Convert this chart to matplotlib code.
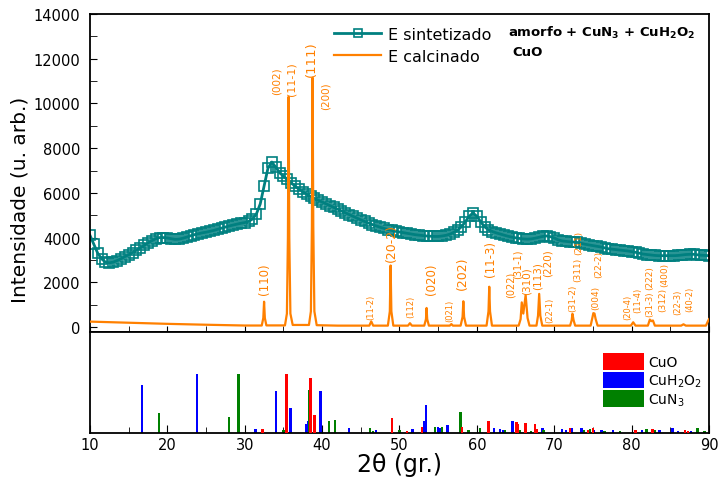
import numpy as np
import matplotlib
matplotlib.use("Agg")
import matplotlib.pyplot as plt
from matplotlib.ticker import MultipleLocator

# --- data ---
# as-synthesised sample (teal, 0.5 deg steps from 10 to 90)
tth_sint = np.arange(10.0, 90.01, 0.5)
int_sint = [4100, 3700, 3300, 3050, 2900, 2870, 2900, 2970, 3050, 3150,
            3230, 3330, 3430, 3540, 3650, 3760, 3860, 3950, 4000, 4000,
            3980, 3950, 3920, 3930, 3970, 4020, 4080, 4130, 4170, 4210,
            4240, 4280, 4320, 4370, 4420, 4470, 4520, 4560, 4600, 4640,
            4670, 4720, 4830, 5050, 5500, 6300, 7100, 7380, 7150, 6900,
            6750, 6600, 6450, 6300, 6170, 6050, 5940, 5840, 5750, 5670,
            5590, 5510, 5430, 5350, 5270, 5190, 5110, 5030, 4950, 4870,
            4790, 4720, 4650, 4580, 4520, 4460, 4410, 4360, 4320, 4280,
            4250, 4220, 4190, 4160, 4130, 4110, 4090, 4070, 4060, 4050,
            4050, 4070, 4100, 4150, 4230, 4330, 4480, 4700, 4950, 5100,
            4950, 4700, 4480, 4350, 4270, 4210, 4160, 4110, 4060, 4020,
            3990, 3960, 3940, 3930, 3940, 3970, 4010, 4050, 4070, 4040,
            3980, 3900, 3850, 3830, 3810, 3800, 3780, 3740, 3700, 3670,
            3640, 3610, 3580, 3540, 3500, 3480, 3460, 3440, 3420, 3400,
            3370, 3340, 3300, 3260, 3240, 3220, 3200, 3190, 3190, 3190,
            3190, 3190, 3200, 3220, 3240, 3250, 3250, 3230, 3210, 3200,
            3190]

# calcined sample (orange)
tth_calc = [10.0, 15.0, 20.0, 25.0, 30.0,
            32.2, 32.4, 32.5, 32.6, 32.8,
            35.2, 35.45, 35.58, 35.67, 35.76, 35.9, 36.2,
            38.3, 38.55, 38.68, 38.77, 38.86, 39.0, 39.3,
            42.0, 46.1, 46.35, 46.6,
            48.5, 48.75, 48.85, 48.95, 49.2,
            51.1, 51.35, 51.6,
            53.2, 53.42, 53.5, 53.58, 53.8,
            56.5, 56.7, 56.9,
            57.9, 58.15, 58.25, 58.35, 58.6,
            61.25, 61.5, 61.6, 61.7, 61.95,
            65.4, 65.65, 65.8, 66.0, 66.3, 66.55, 66.8,
            67.7, 67.9, 68.05, 68.2, 68.45,
            70.0, 72.05, 72.25, 72.35, 72.5, 72.7,
            74.7, 74.95, 75.05, 75.2, 75.35, 75.6,
            79.9, 80.2, 80.5, 82.1, 82.35, 82.55, 82.75, 83.0,
            86.4, 86.7, 87.0, 89.6, 89.85, 90.0]
int_calc = [240, 190, 140, 100, 65,
            65, 400, 1130, 400, 70,
            70, 600, 4000, 10300, 4000, 600, 90,
            90, 700, 4500, 11150, 4500, 700, 80,
            60, 60, 250, 60,
            60, 700, 2750, 700, 60,
            60, 170, 60,
            60, 350, 850, 350, 60,
            60, 130, 60,
            60, 450, 1150, 450, 60,
            60, 700, 1800, 700, 60,
            60, 350, 1100, 600, 1430, 400, 60,
            60, 500, 1480, 500, 60,
            60, 60, 300, 590, 300, 60,
            60, 450, 620, 600, 350, 60,
            60, 210, 60, 60, 330, 260, 290, 60,
            60, 120, 60, 60, 250, 350]

# (hkl) labels: text, 2theta, intensity at label base, font size
hkl_labels = [("(110)", 32.6, 1480, 8.5), ("(002)", 34.1, 10420, 7.5),
              ("(11-1)", 36.1, 10380, 8), ("(111)", 38.6, 11240, 9.5),
              ("(200)", 40.4, 9750, 7.5), ("(11-2)", 46.3, 360, 6),
              ("(20-2)", 48.97, 2970, 9), ("(112)", 51.4, 430, 6),
              ("(020)", 54.1, 1480, 8.5), ("(021)", 56.5, 280, 6),
              ("(202)", 58.1, 1700, 9), ("(11-3)", 61.7, 2270, 8.5),
              ("(022)", 64.4, 1330, 7), ("(31-1)", 65.3, 2200, 7),
              ("(310)", 66.45, 1480, 7.5), ("(113)", 67.85, 1700, 7.5),
              ("(220)", 69.2, 2290, 7.5), ("(22-1)", 69.4, 210, 6),
              ("(31-2)", 72.4, 700, 6.5), ("(311)", 73.0, 2070, 6.5),
              ("(211)", 73.2, 3270, 6.5), ("(004)", 75.4, 800, 6.5),
              ("(22-2)", 75.7, 2220, 6.5), ("(20-4)", 79.5, 360, 6),
              ("(11-4)", 80.8, 660, 6), ("(31-3)", 82.3, 500, 6),
              ("(222)", 82.35, 1700, 6.5), ("(312)", 84.0, 730, 6.5),
              ("(400)", 84.3, 1850, 6.5), ("(22-3)", 86.0, 580, 6),
              ("(40-2)", 87.5, 730, 6)]

# reference patterns (relative intensity)
cuo_pos = [32.3, 35.4, 38.5, 39.0, 49.0, 51.0, 52.9, 58.1, 61.5, 65.1, 65.3,
           66.3, 67.5, 67.7, 72.0, 74.4, 75.0, 80.5, 82.7, 86.9, 87.3]
cuo_int = [7, 100, 93, 31, 26, 4, 10, 10, 21, 19, 16,
           17, 16, 7, 9, 5, 9, 5, 7, 5, 3]
cuh2o2_pos = [16.7, 23.8, 31.4, 34.0, 35.9, 38.0, 38.2, 39.8, 43.5, 47.0,
              51.7, 53.2, 53.4, 55.0, 55.2, 56.2, 62.2, 63.0, 63.4, 64.6,
              68.5, 71.0, 71.5, 72.3, 73.5, 75.1, 76.1, 77.6, 81.3, 83.6,
              85.3, 86.0, 87.7]
cuh2o2_int = [81, 100, 7, 71, 43, 16, 21, 71, 9, 5,
              7, 21, 47, 10, 9, 14, 9, 7, 5, 21,
              9, 7, 5, 9, 9, 5, 5, 5, 5, 5,
              9, 3, 3]
cun3_pos = [18.9, 28.0, 29.2, 35.0, 38.3, 40.9, 41.7, 46.2, 46.6, 50.0,
            54.6, 55.5, 57.9, 58.9, 60.4, 63.6, 65.6, 67.0, 68.6, 73.8,
            74.6, 76.5, 78.5, 81.9, 83.0, 88.5, 89.4]
cun3_int = [34, 28, 100, 5, 74, 21, 22, 9, 3, 5,
            10, 10, 36, 5, 9, 5, 5, 3, 5, 5,
            7, 3, 3, 7, 5, 9, 3]

teal = "#008080"
orange = "#FF8000"

plt.rcParams["font.family"] = "DejaVu Sans"
fig = plt.figure(figsize=(7.18, 4.85), dpi=100)
ax = fig.add_axes([0.1253, 0.3134, 0.8622, 0.6556])
ax2 = fig.add_axes([0.1253, 0.1052, 0.8622, 0.2082], sharex=ax)

ax.plot(tth_sint, int_sint, color=teal, lw=2.0, marker="s", ms=7.5,
        mfc="none", mec=teal, mew=1.2, label="E sintetizado", zorder=2)
ax.plot(tth_calc, int_calc, color=orange, lw=1.6, label="E calcinado", zorder=3)

for txt, x, y, fs in hkl_labels:
    ax.text(x, y, txt, rotation=90, ha="center", va="bottom",
            fontsize=fs, color=orange, zorder=4)

ax.set_xlim(10, 90)
ax.set_ylim(-225, 14000)
ax.yaxis.set_major_locator(MultipleLocator(2000))
ax.yaxis.set_minor_locator(MultipleLocator(1000))
ax.xaxis.set_major_locator(MultipleLocator(5))
ax.tick_params(axis="x", which="both", direction="in", length=4, labelbottom=False)
ax.tick_params(axis="y", which="both", direction="in", length=5, labelsize=10.5, pad=7)
ax.set_ylabel("Intensidade (u. arb.)", fontsize=14.5)
ax.yaxis.set_label_coords(-0.097, 0.418)

leg = ax.legend(loc="upper left", bbox_to_anchor=(0.395, 0.96), frameon=False,
                fontsize=11.5, handlelength=2.9, handletextpad=0.45,
                labelspacing=0.45, borderpad=0, borderaxespad=0, numpoints=1,
                markerscale=0.75)

fig.text(0.7075, 0.932, r"amorfo + CuN$_\mathbf{3}$ + CuH$_\mathbf{2}$O$_\mathbf{2}$",
         fontsize=9.5, fontweight="bold", va="center")
fig.text(0.713, 0.891, "CuO", fontsize=9.5, fontweight="bold", va="center")

w = 0.3
ax2.bar(cuo_pos, cuo_int, width=w, color="#FF0000", label="CuO", zorder=3)
ax2.bar(cuh2o2_pos, cuh2o2_int, width=w, color="#0000FF", label=r"CuH$_2$O$_2$", zorder=2)
ax2.bar(cun3_pos, cun3_int, width=w, color="#008000", label=r"CuN$_3$", zorder=2)
ax2.set_ylim(0, 172)
ax2.set_yticks([])
ax2.xaxis.set_major_locator(MultipleLocator(10))
ax2.xaxis.set_minor_locator(MultipleLocator(5))
ax2.tick_params(axis="x", which="major", direction="in", length=6, labelsize=10.5, pad=3)
ax2.tick_params(axis="x", which="minor", direction="in", length=4)
ax2.set_xlabel("2θ (gr.)", fontsize=17, labelpad=0)
ax2.legend(loc="upper left", bbox_to_anchor=(0.828, 0.79), frameon=False,
           fontsize=10, handlelength=3.0, handleheight=1.5, handletextpad=0.3,
           labelspacing=0.1, borderpad=0, borderaxespad=0)

for a in (ax, ax2):
    for s in a.spines.values():
        s.set_linewidth(1.3)

fig.savefig("out.png", dpi=100)
